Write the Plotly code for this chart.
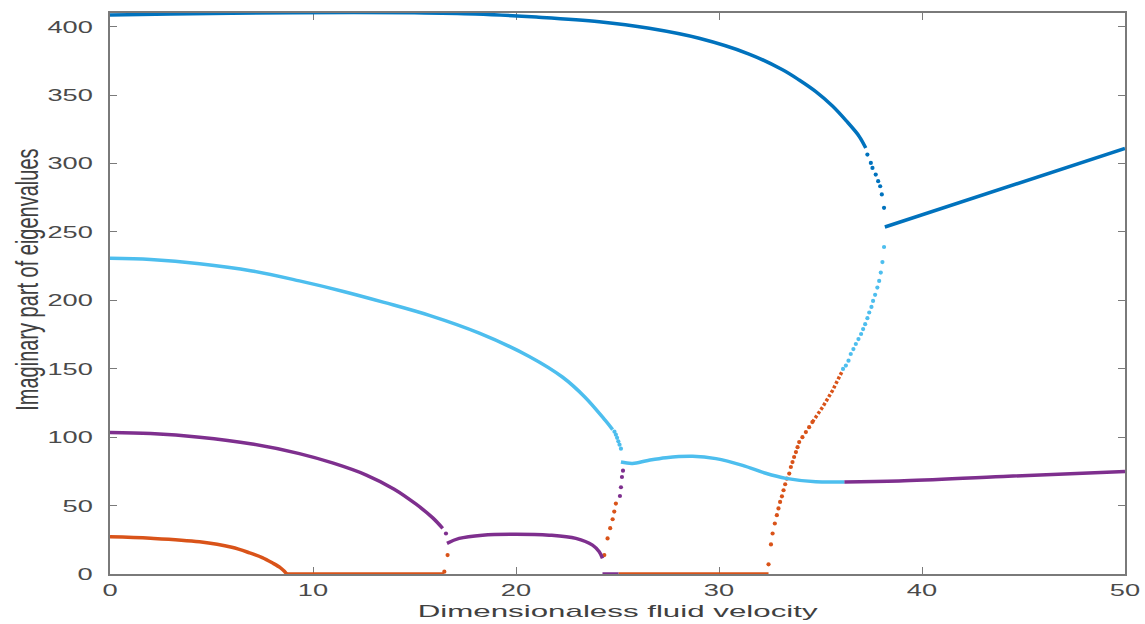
import plotly.graph_objects as go

# ---- colours of the eigenvalue branches ----
BLUE = "#0072BD"
CYAN = "#4DBEEE"
PURPLE = "#7E2F8E"
ORANGE = "#D95319"

# ---- highest branch ----
blue_hi_x = [0, 3, 6, 9, 12, 15, 18, 21, 24.1, 26.56, 29.02, 31.48, 33.13, 33.95, 34.77, 35.59, 36.25, 36.9, 37.23]
blue_hi_y = [408.5, 409.2, 409.8, 410.2, 410.4, 410.2, 409.3, 407.0, 403.6, 398.8, 391.5, 380.0, 368.5, 361.0, 352.5, 342.0, 331.5, 320.0, 311.3]
blue_hi_dots_x = [37.31, 37.48, 37.56, 37.72, 37.84, 37.94, 38.02, 38.13]
blue_hi_dots_y = [306.5, 300.4, 296.8, 291.9, 287.1, 283.4, 277.4, 267.6]
blue_after_x = [38.17, 44.0, 50.0]
blue_after_y = [253.6, 282.0, 311.0]

# ---- third branch ----
cyan_x = [0, 2, 4.41, 7, 9.33, 11.5, 13.5, 15.73, 18.19, 20.65, 22.3, 23.4, 24.4, 24.76]
cyan_y = [230.7, 229.8, 226.8, 221.5, 214.2, 206.5, 198.5, 189.0, 176.0, 159.0, 143.8, 129.2, 112.2, 105.5]
cyan_dots_x = [24.85, 24.92, 24.98, 25.04, 25.10, 25.17]
cyan_dots_y = [104.0, 101.8, 99.5, 97.0, 94.5, 91.6]
cyan_mid_x = [25.17, 25.74, 26.5, 27.39, 28.7, 29.85, 31.16, 32.3, 33.3, 34.77, 36.17]
cyan_mid_y = [81.8, 80.8, 83.0, 85.0, 86.0, 84.3, 79.4, 73.6, 69.9, 67.4, 67.3]
cyan_rise_x = [36.11, 36.25, 36.38, 36.49, 36.62, 36.74, 36.87, 37.0, 37.10, 37.20,
               37.31, 37.40, 37.51, 37.59, 37.69, 37.80, 37.89, 37.97, 38.05, 38.13]
cyan_rise_y = [149.9, 152.3, 155.9, 160.8, 164.4, 168.1, 171.7, 175.4, 179.0, 182.6,
               187.0, 191.1, 195.2, 199.6, 204.0, 209.3, 214.2, 220.3, 228.0, 239.0]

# ---- second branch ----
purple_a_x = [0, 2, 4.41, 7, 9.33, 11, 12.6, 14, 15.08, 15.9, 16.39]
purple_a_y = [103.5, 102.7, 100.0, 95.0, 88.0, 81.0, 72.5, 62.0, 51.0, 41.0, 33.3]
purple_a_dots_x = [16.55]
purple_a_dots_y = [29.6]
purple_b_x = [16.6, 17.2, 18.35, 20.0, 21.64, 22.95, 23.77, 24.1, 24.26]
purple_b_y = [22.4, 26.0, 28.4, 29.1, 28.4, 26.0, 21.1, 16.2, 11.4]
purple_zero_x = [24.26, 25.05]
purple_zero_y = [0, 0]
purple_dots_x = [25.12, 25.17, 25.22, 25.27]
purple_dots_y = [57.0, 63.4, 70.9, 75.5]
purple_c_x = [36.17, 38.87, 44.0, 50.0]
purple_c_y = [67.3, 68.0, 71.3, 75.0]

# ---- lowest branch ----
orange_a_x = [0, 2, 4.41, 6, 6.87, 7.5, 8.01, 8.4, 8.59, 8.7]
orange_a_y = [27.2, 26.1, 23.5, 19.5, 15.5, 12.0, 8.0, 4.5, 2.0, 0]
orange_zero1_x = [8.7, 16.45]
orange_zero1_y = [0, 0]
orange_dots1_x = [16.47, 16.63]
orange_dots1_y = [1.7, 13.8]
orange_dots2_x = [24.35, 24.51, 24.64, 24.76, 24.84, 24.92]
orange_dots2_y = [13.8, 26.0, 33.5, 40.0, 45.6, 51.5]
orange_zero2_x = [25.05, 32.44]
orange_zero2_y = [0, 0]
orange_dots3_x = [32.44, 32.56, 32.64, 32.75, 32.85, 32.93, 33.01, 33.10, 33.18, 33.26, 33.34,
                  33.46, 33.54, 33.62, 33.70, 33.79, 33.87, 33.95, 34.11, 34.28, 34.44, 34.60]
orange_dots3_y = [7.1, 21.6, 29.6, 36.9, 43.0, 47.9, 52.7, 56.8, 61.2, 65.6, 69.7,
                  73.4, 78.2, 81.8, 85.5, 89.1, 92.7, 96.4, 100.0, 103.7, 107.3, 111.0]
orange_upper_x = [34.60, 35.10, 35.59, 36.08]
orange_upper_y = [111.0, 121.9, 134.0, 148.6]

# ---- axes ----
x_ticks = [0, 10, 20, 30, 40, 50]
y_ticks = [0, 50, 100, 150, 200, 250, 300, 350, 400]
x_label = "Dimensionaless fluid velocity"
y_label = "Imaginary part of eigenvalues"

LINE_W = 3.5
DOT = 4.2

fig = go.Figure()


def add_curve(x, y, color, dash="solid", spline=True):
    fig.add_trace(go.Scatter(
        x=x, y=y, mode="lines",
        line=dict(color=color, width=LINE_W, dash=dash,
                  shape="spline" if spline else "linear", smoothing=1.0),
        hoverinfo="skip", showlegend=False))


def add_dots(x, y, color):
    fig.add_trace(go.Scatter(
        x=x, y=y, mode="markers",
        marker=dict(color=color, size=DOT, line=dict(width=0)),
        hoverinfo="skip", showlegend=False, cliponaxis=True))


add_curve(orange_a_x, orange_a_y, ORANGE)
add_curve(orange_zero1_x, orange_zero1_y, ORANGE, spline=False)
add_dots(orange_dots1_x, orange_dots1_y, ORANGE)
add_dots(orange_dots2_x, orange_dots2_y, ORANGE)
add_curve(orange_zero2_x, orange_zero2_y, ORANGE, spline=False)
add_dots(orange_dots3_x, orange_dots3_y, ORANGE)
add_curve(orange_upper_x, orange_upper_y, ORANGE, dash="3px,2px", spline=False)

add_curve(purple_a_x, purple_a_y, PURPLE)
add_dots(purple_a_dots_x, purple_a_dots_y, PURPLE)
add_curve(purple_b_x, purple_b_y, PURPLE)
add_curve(purple_zero_x, purple_zero_y, PURPLE, spline=False)
add_dots(purple_dots_x, purple_dots_y, PURPLE)
add_curve(purple_c_x, purple_c_y, PURPLE)

add_curve(cyan_x, cyan_y, CYAN)
add_dots(cyan_dots_x, cyan_dots_y, CYAN)
add_curve(cyan_mid_x, cyan_mid_y, CYAN)
add_dots(cyan_rise_x, cyan_rise_y, CYAN)

add_curve(blue_hi_x, blue_hi_y, BLUE)
add_dots(blue_hi_dots_x, blue_hi_dots_y, BLUE)
add_curve(blue_after_x, blue_after_y, BLUE, spline=False)

AXIS_COLOR = "#7a7a7a"
TICK_FONT = dict(family="Liberation Sans, Arial, sans-serif", size=17, color="#4a4a4a")

axis_common = dict(
    showgrid=False, zeroline=False,
    showline=True, linecolor=AXIS_COLOR, linewidth=1.6, mirror="ticks",
    ticks="inside", ticklen=7, tickwidth=1.2, tickcolor=AXIS_COLOR,
    tickfont=TICK_FONT, layer="below traces",
)

fig.update_xaxes(range=[0, 50], tickvals=x_ticks, ticktext=[str(v) for v in x_ticks],
                 ticklabelstandoff=0, **axis_common)
fig.update_yaxes(range=[0, 410], tickvals=y_ticks, ticktext=[str(v) for v in y_ticks],
                 ticklabelstandoff=12, **axis_common)

fig.update_layout(
    width=1145, height=624,
    margin=dict(l=110, r=19, t=11, b=50),
    paper_bgcolor="white", plot_bgcolor="white",
    annotations=[
        dict(text=x_label, xref="paper", yref="paper", x=0.5, y=-0.066,
             xanchor="center", yanchor="middle", showarrow=False,
             font=dict(family="Liberation Sans, Arial, sans-serif", size=17, color="#404040")),
        dict(text=y_label, xref="paper", yref="paper", x=-0.082, y=0.524,
             xanchor="center", yanchor="middle", showarrow=False, textangle=-90,
             font=dict(family="Liberation Sans, Arial, sans-serif", size=20, color="#404040")),
    ],
)

# Widen the lettering horizontally (broad Helvetica-style labels).
widen_js = """
var gd = document.getElementById('{plot_id}');
function widen(sel, k) {
  gd.querySelectorAll(sel).forEach(function (t) {
    var w = t.getComputedTextLength();
    t.setAttribute('lengthAdjust', 'spacingAndGlyphs');
    t.setAttribute('textLength', (w * k).toFixed(1));
  });
}
widen('.xtick text', 1.6);
widen('.ytick text', 1.6);
widen('.annotation[data-index="0"] text', 1.84);

// the rotated y label: thicken its glyphs across the baseline direction
var yt = gd.querySelector('.annotation[data-index="1"] text');
if (yt) {
  var bb = yt.getBBox();
  var cy = bb.y + bb.height / 2;
  var prev = yt.getAttribute('transform') || '';
  yt.setAttribute('transform', prev + ' translate(0,' + cy + ') scale(1,1.6) translate(0,' + (-cy) + ')');
}
"""

fig.write_html("out.html", post_script=widen_js)
